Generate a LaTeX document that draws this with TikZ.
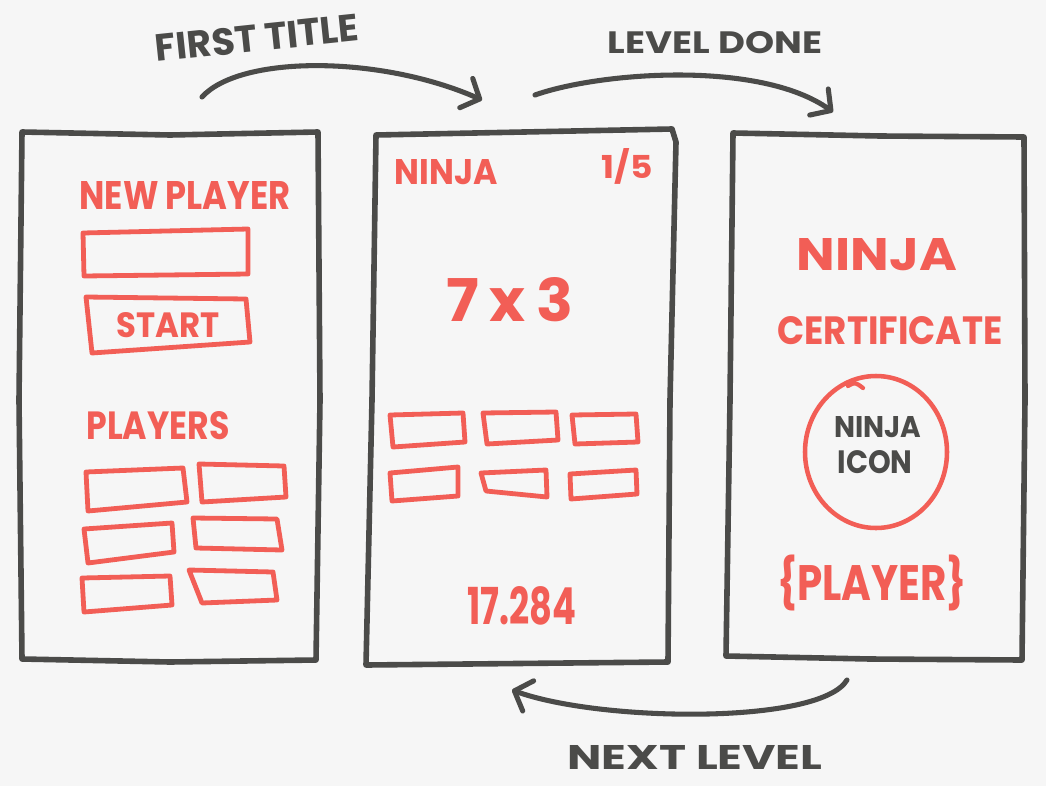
\documentclass[tikz,border=0pt]{standalone}
\usepackage{fontspec}
\setmainfont{Poppins}
\usepackage{graphicx}
\usetikzlibrary{arrows.meta}
\definecolor{ink}{RGB}{75,75,73}
\definecolor{marker}{RGB}{242,94,86}
\definecolor{paper}{RGB}{246,246,246}
\newlength\pxu \setlength\pxu{0.75pt}
\newcommand\fitw[3]{\resizebox{#1\pxu}{#2\pxu}{\bfseries #3}}
\newcommand\fitt[3]{\resizebox*{#1\pxu}{#2\pxu}{\bfseries #3}}
\tikzset{
  panel/.style={draw=ink, line width=4.2pt, line join=round, line cap=round},
  redbox/.style={draw=marker, line width=3.6pt, line join=round, line cap=round},
  flow/.style={draw=ink, line width=3.8pt, line cap=round, -{Straight Barb[length=11pt,width=24pt,round]}},
  redtxt/.style={text=marker, inner sep=0pt},
  inktxt/.style={text=ink, inner sep=0pt},
}
\begin{document}
\begin{tikzpicture}[x=0.75pt,y=-0.75pt]
\fill[paper] (0,0) rectangle (1046,786);
\useasboundingbox (0,0) rectangle (1046,786);

% ---------- panels ----------
\draw[panel] (22,132) -- (170,135) -- (318,132) -- (320,400) -- (316,660) -- (170,662) -- (22,659) -- (19,400) -- cycle;
\draw[panel] (376,135) -- (672,129) -- (676,142) -- (670,400) -- (668,662) -- (366,665) -- (372,400) -- cycle;
\draw[panel] (733,133) -- (880,136) -- (1024,137) -- (1025,400) -- (1022,660) -- (870,659) -- (726,656) -- (730,400) -- cycle;

% ---------- left panel ----------
\node[redtxt] (newplayer) at (185,195) {\fitw{211}{28}{NEW PLAYER}};
\draw[redbox] (83,233) -- (248,229) -- (248,274) -- (84,276) -- cycle;
\draw[redbox] (86,297) -- (246,299) -- (250,342) -- (92,353) -- cycle;
\node[redtxt] (start) at (168,325) {\fitw{103}{25}{START}};
\node[redtxt] (players) at (158,426) {\fitw{143}{28}{PLAYERS}};
\draw[redbox] (86,472) -- (183,468) -- (187,502) -- (88,511) -- cycle;
\draw[redbox] (199,464) -- (284,466) -- (286,497) -- (202,502) -- cycle;
\draw[redbox] (84,529) -- (172,523) -- (174,552) -- (88,563) -- cycle;
\draw[redbox] (193,518) -- (277,519) -- (282,550) -- (196,548) -- cycle;
\draw[redbox] (82,578) -- (170,576) -- (172,605) -- (84,612) -- cycle;
\draw[redbox] (189,570) -- (273,572) -- (277,600) -- (202,603) -- cycle;

% ---------- middle panel ----------
\node[redtxt] (ninjatop) at (446,172) {\fitw{103}{25}{NINJA}};
\node[redtxt] (count) at (627,166) {\fitw{51}{30}{1/5}};
\node[redtxt] (task) at (510,300) {\fitw{126}{44}{7\,x\,3}};
\draw[redbox] (390,415) -- (463,413) -- (465,442) -- (393,447) -- cycle;
\draw[redbox] (483,413) -- (556,412) -- (558,440) -- (487,444) -- cycle;
\draw[redbox] (572,415) -- (636,414) -- (638,442) -- (575,444) -- cycle;
\draw[redbox] (390,473) -- (458,467) -- (458,496) -- (392,501) -- cycle;
\draw[redbox] (481,473) -- (546,470) -- (547,497) -- (486,491) -- cycle;
\draw[redbox] (570,474) -- (636,470) -- (637,494) -- (571,499) -- cycle;
\node[redtxt] (score) at (522,606) {\fitw{109}{38}{17.284}};

% ---------- right panel ----------
\node[redtxt] (ninjabig) at (877,255) {\fitw{160}{32}{NINJA}};
\node[redtxt] (cert) at (890,331) {\fitw{225}{28}{CERTIFICATE}};
\draw[draw=marker, line width=3.4pt] (876,452) ellipse [x radius=53.25pt, y radius=57pt];
\draw[draw=marker, line width=3.2pt, line cap=round] (848,386) .. controls (855,382) .. (863,388);
\node[inktxt] (ninjaicon) at (878,427) {\fitw{87}{21}{NINJA}};
\node[inktxt] (icon) at (875,462) {\fitw{75}{23}{ICON}};
\node[redtxt] (player) at (872,583) {\fitt{190}{56}{\{PLAYER\}}};

% ---------- flow arrows ----------
\coordinate (ftA) at (202,97);
\coordinate (ftB) at (482,100);
\coordinate (ldA) at (535,95);
\coordinate (ldB) at (833,112);
\coordinate (nlA) at (847,680);
\coordinate (nlB) at (512,690);
\draw[flow] (ftA) .. controls (240,55) and (380,55) .. (ftB);
\draw[flow] (ldA) .. controls (600,72) and (760,60) .. (ldB);
\draw[flow] (nlA) .. controls (820,725) and (600,722) .. (nlB);
\node[inktxt, rotate=6] (lblfirst) at (257,38) {\fitw{204}{27}{FIRST TITLE}};
\node[inktxt] (lbllevel) at (715,43) {\fitw{214}{22}{LEVEL DONE}};
\node[inktxt] (lblnext) at (695,757) {\fitw{255}{24}{NEXT LEVEL}};
\end{tikzpicture}
\end{document}
